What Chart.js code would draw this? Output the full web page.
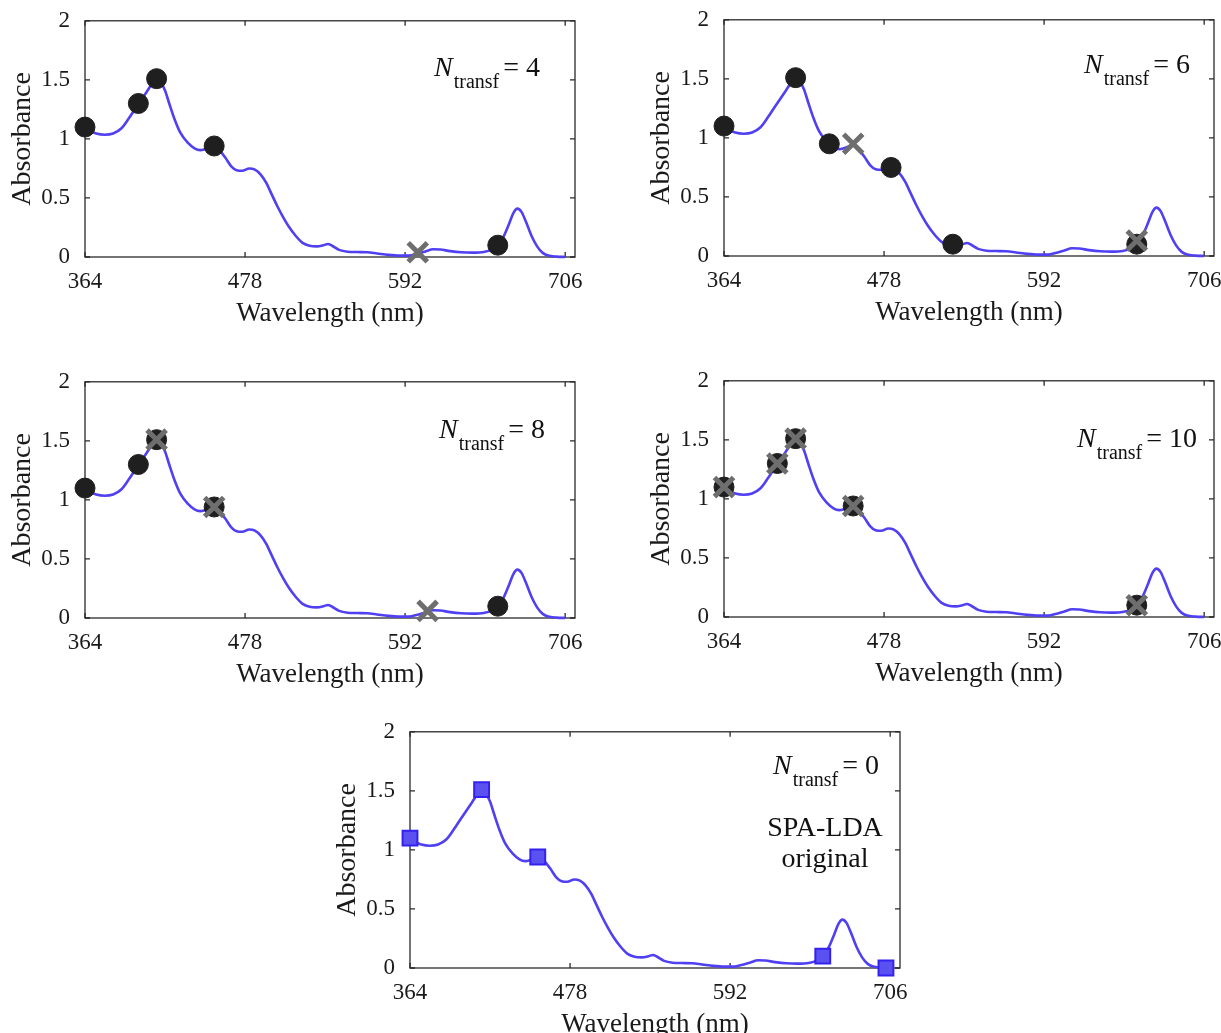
<!DOCTYPE html>
<html>
<head>
<meta charset="utf-8">
<title>Absorbance spectra - selected wavelengths</title>
<script src="https://cdn.jsdelivr.net/npm/chart.js@4.4.1/dist/chart.umd.min.js"></script>
<style>
    body { margin: 0; background: #fff; width: 1221px; height: 1033px; position: relative; overflow: hidden; }
    .panel { position: absolute; }
</style>
</head>
<body>
<div class="panel" style="left:0px;top:0px"><canvas id="chartN4" width="600" height="330"></canvas></div>
<div class="panel" style="left:639px;top:-1px"><canvas id="chartN6" width="600" height="330"></canvas></div>
<div class="panel" style="left:0px;top:361px"><canvas id="chartN8" width="600" height="330"></canvas></div>
<div class="panel" style="left:639px;top:360px"><canvas id="chartN10" width="600" height="330"></canvas></div>
<div class="panel" style="left:325px;top:711px"><canvas id="chartN0" width="600" height="330"></canvas></div>

<script>
// Mean spectrum
const wavelength = [364, 368, 372, 378, 384, 390, 395, 400, 404, 408, 412, 415, 418, 421, 424, 428,
    432, 437, 442, 446, 450, 456, 460, 464, 468, 472, 476, 481, 485, 489, 493, 497, 501, 505, 509,
    514, 519, 524, 529, 534, 537, 540, 545, 551, 558, 565, 572, 580, 588, 595, 600, 606, 612, 617,
    624, 632, 640, 648, 654, 658, 662, 666, 669, 672, 675, 678, 682, 686, 690, 695, 700, 706];
const absorbance = [1.10, 1.065, 1.045, 1.035, 1.045, 1.09, 1.17, 1.26, 1.33, 1.40, 1.47, 1.51, 1.48,
    1.41, 1.30, 1.16, 1.05, 0.97, 0.92, 0.905, 0.915, 0.94, 0.90, 0.84, 0.77, 0.735, 0.73, 0.75, 0.74,
    0.70, 0.63, 0.53, 0.43, 0.34, 0.26, 0.18, 0.12, 0.095, 0.09, 0.10, 0.11, 0.095, 0.06, 0.045, 0.042,
    0.04, 0.03, 0.018, 0.012, 0.012, 0.025, 0.045, 0.065, 0.063, 0.05, 0.04, 0.037, 0.043, 0.065, 0.10,
    0.17, 0.28, 0.37, 0.41, 0.38, 0.30, 0.18, 0.09, 0.035, 0.01, 0.003, 0.0];

const xTicks = [364, 478, 592, 706];
const yTicks = [0, 0.5, 1, 1.5, 2];

// selected variables, one set per panel
const n4CircleNm = [364, 402, 415, 456, 658];
const n4CircleAbs = [1.10, 1.30, 1.51, 0.94, 0.10];
const n4CrossNm = [601];
const n4CrossAbs = [0.04];

const n6CircleNm = [364, 415, 439, 483, 527, 658];
const n6CircleAbs = [1.10, 1.51, 0.95, 0.75, 0.10, 0.10];
const n6CrossNm = [456, 658];
const n6CrossAbs = [0.95, 0.13];

const n8CircleNm = [364, 402, 415, 456, 658];
const n8CircleAbs = [1.10, 1.30, 1.51, 0.94, 0.10];
const n8CrossNm = [415, 456, 608];
const n8CrossAbs = [1.51, 0.94, 0.06];

const n10CircleNm = [364, 402, 415, 456, 658];
const n10CircleAbs = [1.10, 1.30, 1.51, 0.94, 0.10];
const n10CrossNm = [364, 402, 415, 456, 658];
const n10CrossAbs = [1.10, 1.30, 1.51, 0.94, 0.10];

// original SPA-LDA (no transfer samples)
const spaNm = [364, 415, 455, 658, 703];
const spaAbs = [1.10, 1.51, 0.94, 0.10, 0.0];

const FONT = "'Liberation Serif', 'Times New Roman', serif";
const LINE_COLOR = '#5040f2';

function pts(xs, ys) {
    return xs.map((v, i) => ({ x: v, y: ys[i] }));
}

// box + inward ticks (MATLAB look), drawn under the markers
const boxPlugin = {
    id: 'boxPlugin',
    beforeDatasetsDraw(chart) {
        const { ctx, chartArea: a, scales: { x, y } } = chart;
        ctx.save();
        ctx.strokeStyle = '#2a2a2a';
        ctx.lineWidth = 1.3;
        ctx.strokeRect(a.left, a.top, a.right - a.left, a.bottom - a.top);
        ctx.beginPath();
        x.ticks.forEach(t => {
            const px = x.getPixelForValue(t.value);
            ctx.moveTo(px, a.bottom); ctx.lineTo(px, a.bottom - 5);
            ctx.moveTo(px, a.top); ctx.lineTo(px, a.top + 5);
        });
        y.ticks.forEach(t => {
            const py = y.getPixelForValue(t.value);
            ctx.moveTo(a.left, py); ctx.lineTo(a.left + 5, py);
            ctx.moveTo(a.right, py); ctx.lineTo(a.right - 5, py);
        });
        ctx.stroke();
        ctx.restore();
    }
};

// "N_transf = k" text, plus optional extra lines
const notePlugin = {
    id: 'notePlugin',
    afterDraw(chart, args, opts) {
        const { ctx, chartArea: a } = chart;
        ctx.save();
        ctx.fillStyle = '#111';
        ctx.textBaseline = 'alphabetic';
        const big = '28px ' + FONT;
        const bigIt = 'italic 28px ' + FONT;
        const small = '20px ' + FONT;
        const rest = '= ' + opts.n;
        ctx.font = bigIt; const wN = ctx.measureText('N').width;
        ctx.font = small; const wSub = ctx.measureText('transf').width;
        ctx.font = big; const wRest = ctx.measureText(rest).width;
        const total = wN + 1 + wSub + 4 + wRest;
        let x0 = a.right - opts.right - total;
        const yb = a.top + opts.top;
        ctx.font = bigIt; ctx.fillText('N', x0, yb);
        x0 += wN + 1;
        ctx.font = small; ctx.fillText('transf', x0, yb + 12);
        x0 += wSub + 4;
        ctx.font = big; ctx.fillText(rest, x0, yb);
        if (opts.extra) {
            ctx.textAlign = 'center';
            opts.extra.forEach((line, i) => {
                ctx.fillText(line, a.right - opts.extraRight, a.top + opts.extraTop + i * 31);
            });
        }
        ctx.restore();
    }
};

function makeChart(id, n, markerSets, note) {
    const datasets = [{
        data: pts(wavelength, absorbance),
        borderColor: LINE_COLOR,
        borderWidth: 2.6,
        pointRadius: 0,
        cubicInterpolationMode: 'monotone',
        fill: false,
        clip: false,
        order: 3
    }].concat(markerSets);

    new Chart(document.getElementById(id), {
        type: 'line',
        data: { datasets: datasets },
        options: {
            responsive: false,
            animation: false,
            events: [],
            layout: { padding: { top: 20, right: 25, left: 0, bottom: 0 } },
            plugins: {
                legend: { display: false },
                tooltip: { enabled: false },
                notePlugin: Object.assign({ n: n }, note)
            },
            scales: {
                x: {
                    type: 'linear',
                    min: 364,
                    max: 713,
                    afterBuildTicks: s => { s.ticks = xTicks.map(v => ({ value: v })); },
                    afterFit: s => { s.height = 73; },
                    grid: { display: false },
                    border: { display: false },
                    ticks: { font: { family: FONT, size: 23 }, color: '#1a1a1a', padding: 3, maxRotation: 0, autoSkip: false },
                    title: {
                        display: true, text: 'Wavelength (nm)', color: '#1a1a1a',
                        font: { family: FONT, size: 27 }, padding: { top: 0, bottom: 0 }
                    }
                },
                y: {
                    min: 0,
                    max: 2,
                    afterBuildTicks: s => { s.ticks = yTicks.map(v => ({ value: v })); },
                    afterFit: s => { s.width = 85; },
                    grid: { display: false },
                    border: { display: false },
                    ticks: {
                        font: { family: FONT, size: 23 }, color: '#1a1a1a', padding: 7,
                        callback: v => String(v)
                    },
                    title: {
                        display: true, text: 'Absorbance', color: '#1a1a1a',
                        font: { family: FONT, size: 28 }, padding: { top: 6, bottom: 0 }
                    }
                }
            }
        },
        plugins: [boxPlugin, notePlugin]
    });
}

function circles(xs, ys) {
    return {
        data: pts(xs, ys), showLine: false, clip: false, order: 2,
        pointStyle: 'circle', pointRadius: 10,
        pointBackgroundColor: '#1f1f1f', pointBorderColor: '#1f1f1f', pointBorderWidth: 1
    };
}

function crosses(xs, ys) {
    return {
        data: pts(xs, ys), showLine: false, clip: false, order: 1,
        pointStyle: 'crossRot', pointRadius: 13.5,
        pointBorderColor: '#6e6e6e', pointBorderWidth: 5
    };
}

function squares(xs, ys) {
    return {
        data: pts(xs, ys), showLine: false, clip: false, order: 1,
        pointStyle: 'rect', pointRadius: 10.5,
        pointBackgroundColor: '#5b50f0', pointBorderColor: '#3322ee', pointBorderWidth: 2
    };
}

makeChart('chartN4', 4, [circles(n4CircleNm, n4CircleAbs), crosses(n4CrossNm, n4CrossAbs)], { right: 35, top: 55 });
makeChart('chartN6', 6, [circles(n6CircleNm, n6CircleAbs), crosses(n6CrossNm, n6CrossAbs)], { right: 24, top: 53 });
makeChart('chartN8', 8, [circles(n8CircleNm, n8CircleAbs), crosses(n8CrossNm, n8CrossAbs)], { right: 30, top: 56 });
makeChart('chartN10', 10, [circles(n10CircleNm, n10CircleAbs), crosses(n10CrossNm, n10CrossAbs)], { right: 17, top: 66 });
makeChart('chartN0', 0, [squares(spaNm, spaAbs)],
    { right: 21, top: 42, extra: ['SPA-LDA', 'original'], extraRight: 75, extraTop: 104 });
</script>
</body>
</html>
